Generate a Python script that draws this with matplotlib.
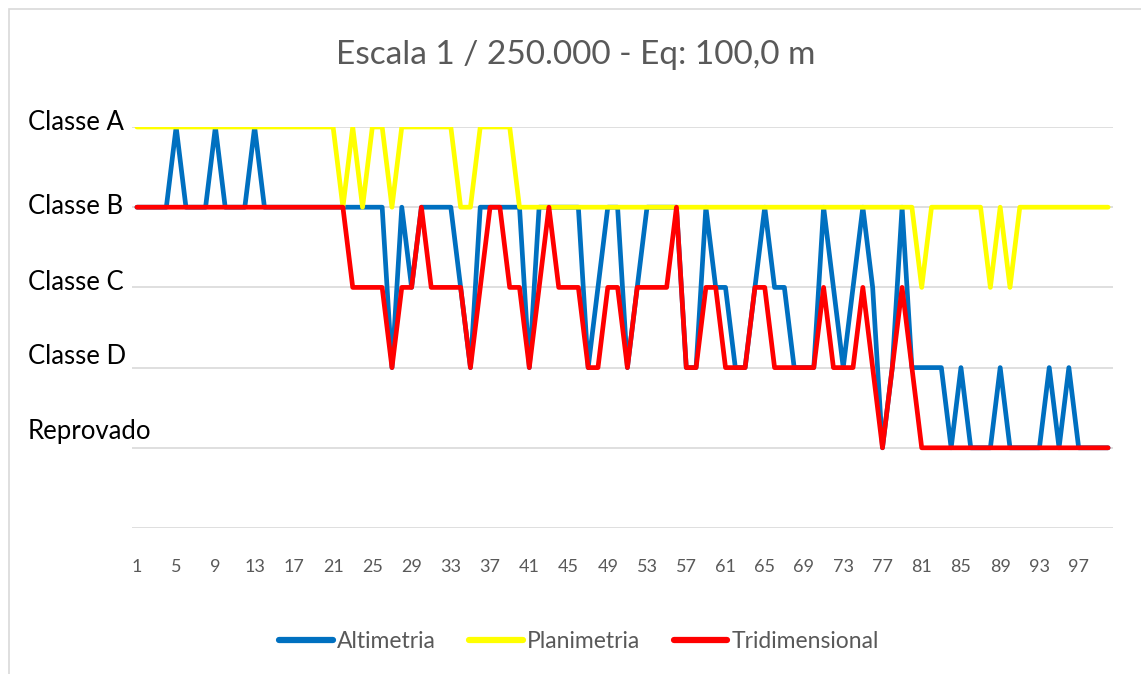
import numpy as np
import matplotlib
matplotlib.use('Agg')
import matplotlib.pyplot as plt
from matplotlib.patches import Rectangle

plt.rcParams['font.family'] = ['Lato', 'DejaVu Sans']

# 5 = Classe A, 4 = Classe B, 3 = Classe C, 2 = Classe D, 1 = Reprovado
classes = ['Classe A', 'Classe B', 'Classe C', 'Classe D', 'Reprovado']
class_values = [5, 4, 3, 2, 1]

pontos = np.arange(1, 101)

altimetria = ([4, 4, 4, 4, 5, 4, 4, 4, 5, 4, 4, 4, 5] + [4] * 13 +
              [2, 4, 3, 4, 4, 4, 4, 3, 2, 4, 4, 4, 4, 4, 2, 4, 4, 4, 4, 4,
               2, 3, 4, 4, 2, 3, 4, 4, 4, 4, 2, 2, 4, 3, 3, 2, 2, 3, 4, 3,
               3, 2, 2, 2, 4, 3, 2, 3, 4, 3, 1, 2, 4, 2, 2, 2, 2, 1, 2, 1,
               1, 1, 2, 1, 1, 1, 1, 2, 1, 2, 1, 1, 1, 1])

planimetria = ([5] * 21 + [4, 5, 4, 5, 5, 4] + [5] * 6 + [4, 4] + [5] * 4 +
               [4] * 41 + [3] + [4] * 6 + [3, 4, 3] + [4] * 10)

tridimensional = ([4] * 22 + [3, 3, 3, 3, 2, 3, 3, 4, 3, 3, 3, 3, 2, 3, 4, 4,
                              3, 3, 2, 3, 4, 3, 3, 3, 2, 2, 3, 3, 2, 3, 3, 3,
                              3, 4, 2, 2, 3, 3, 2, 2, 2, 3, 3, 2, 2, 2, 2, 2,
                              3, 2, 2, 2, 3, 2, 1, 2, 3, 2] + [1] * 20)

W, H = 1141, 674
fig = plt.figure(figsize=(W / 100, H / 100), dpi=100)
ax = fig.add_axes([132 / W, 1 - 528 / H, (1113 - 132) / W, (528 - 127) / H])

# chart border
fig.patches.append(Rectangle((9 / W, -0.1), 1.2, 1 - 9 / H + 0.1, transform=fig.transFigure,
                             fill=False, edgecolor='#D9D9D9', linewidth=1.2))

ax.plot(pontos, altimetria, color='#0070C0', linewidth=3.4, label='Altimetria',
        solid_joinstyle='round', solid_capstyle='round')
ax.plot(pontos, planimetria, color='#FFFF00', linewidth=3.4, label='Planimetria',
        solid_joinstyle='round', solid_capstyle='round')
ax.plot(pontos, tridimensional, color='#FF0000', linewidth=3.4, label='Tridimensional',
        solid_joinstyle='round', solid_capstyle='round')

ax.set_xlim(0.5, 100.5)
ax.set_ylim(0, 5)
ax.set_yticks([0, 1, 2, 3, 4, 5])
ax.set_yticklabels([])
ax.yaxis.grid(True, color='#D9D9D9', linewidth=1.2)
ax.set_axisbelow(True)
for s in ax.spines.values():
    s.set_visible(False)
ax.tick_params(axis='both', length=0)
ax.set_xticks(pontos[::4])
ax.set_xticklabels([str(p) for p in pontos[::4]], fontsize=13, color='#595959')
ax.tick_params(axis='x', pad=22)

# class labels on the left
label_px = [122, 206, 283, 357, 432]
for name, ypx in zip(classes, label_px):
    fig.text(28 / W, 1 - ypx / H, name, fontsize=18.5, color='black', ha='left', va='center')

fig.text(576 / W, 1 - 55 / H, 'Escala 1 / 250.000 - Eq: 100,0 m', fontsize=24,
         color='#595959', ha='center', va='center')

leg = fig.legend(loc='center', bbox_to_anchor=(579 / W, 1 - 642 / H), ncol=3, frameon=False,
                 fontsize=16.5, handlelength=2.35, handletextpad=0.18, columnspacing=1.45)
for t in leg.get_texts():
    t.set_color('#595959')
for l in leg.get_lines():
    l.set_linewidth(4.5)

fig.savefig('out.png', dpi=100)
